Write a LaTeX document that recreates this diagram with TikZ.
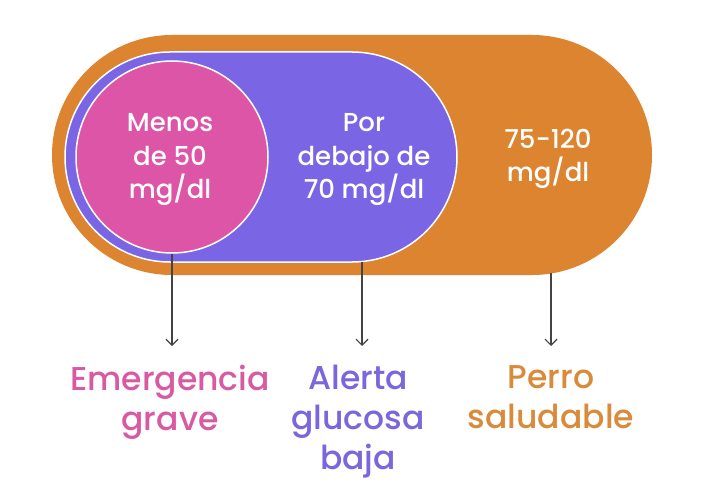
\documentclass[tikz,border=0pt]{standalone}
\usepackage{fontspec}
\usetikzlibrary{arrows.meta}
\setmainfont{Poppins}[UprightFont={* Medium}]
\definecolor{orng}{HTML}{DC8430}
\definecolor{purp}{HTML}{7A66E4}
\definecolor{pink}{HTML}{DD55A6}
\definecolor{pinktxt}{HTML}{D85AA3}
\definecolor{purptxt}{HTML}{7A66DD}
\definecolor{orngtxt}{HTML}{D98A3A}
\definecolor{arr}{HTML}{444444}
\begin{document}
\begin{tikzpicture}[x=1pt,y=-1pt,
  intext/.style={text=white,font=\fontsize{26}{33.5}\selectfont,align=center},
  lbl/.style={font=\fontsize{33}{40}\selectfont,align=center,anchor=north},
  conn/.style={draw=arr,line width=1.2pt,-{Straight Barb[length=6pt,width=12pt]}}]
\useasboundingbox (0,0) rectangle (720,500);
\fill[white] (0,0) rectangle (720,500);
\node[fill=orng,rounded corners=120pt,minimum width=600pt,minimum height=240pt,inner sep=0pt] (orange) at (352,155) {};
\node[fill=purp,draw=white,line width=1.5pt,rounded corners=105pt,minimum width=392pt,minimum height=210pt,inner sep=0pt] (purple) at (261,157) {};
\node[circle,fill=pink,draw=white,line width=1.5pt,minimum size=192pt,inner sep=0pt] (circ) at (172,157) {};
\node[intext] (t1) at (170,160) {Menos\\de 50\\mg/dl};
\node[intext] (t2) at (364,160) {Por\\debajo de\\70 mg/dl};
\node[intext] (t3) at (548,159) {75-120\\mg/dl};
\coordinate (b2) at (362,262);
\coordinate (b3) at (551,273);
\coordinate (e1) at (172,346);
\coordinate (e2) at (362,346);
\coordinate (e3) at (551,346);
\node[lbl,text=pinktxt] (l1) at (170,362) {Emergencia\\grave};
\node[lbl,text=purptxt] (l2) at (358,362) {Alerta\\glucosa\\baja};
\node[lbl,text=orngtxt] (l3) at (551,362) {Perro\\saludable};
\draw[conn] (circ.south) -- (e1);
\draw[conn] (b2) -- (e2);
\draw[conn] (b3) -- (e3);
\end{tikzpicture}
\end{document}
